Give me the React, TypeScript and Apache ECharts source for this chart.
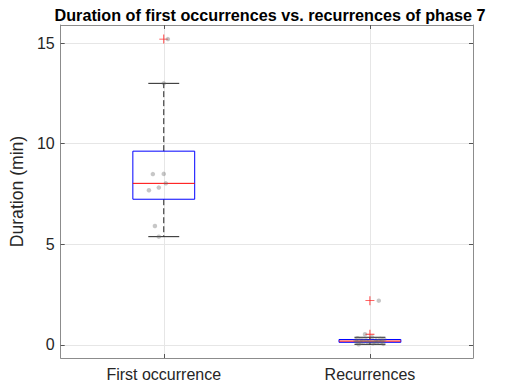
import React, { useEffect, useRef } from "react";
import * as echarts from "echarts";

const categories = ["First occurrence", "Recurrences"];
const categoryPositions = [1, 2];
const yTicks = [0, 5, 10, 15];

// box statistics per group: [lower whisker, q1, median, q3, upper whisker]
const firstBox = [5.38, 7.24, 8.03, 9.63, 13.0];
const recurrenceBox = [0.03, 0.13, 0.19, 0.27, 0.38];

// outliers: [group position, value]
const outlierPoints = [
  [1, 15.2],
  [2, 2.2],
  [2, 0.53],
];

// raw observations (jittered horizontally as in the reference)
const firstValues = [15.2, 13.0, 8.49, 8.5, 8.03, 7.69, 7.82, 5.91, 5.38];
const firstJitter = [0.02, 0, -0.053, 0, 0.01, -0.072, -0.024, -0.043, -0.024];

const recurrenceValues = [
  2.2, 0.53, 0.38, 0.33, 0.3, 0.28, 0.27, 0.25, 0.24, 0.22, 0.21, 0.2, 0.19,
  0.18, 0.17, 0.16, 0.15, 0.14, 0.13, 0.12, 0.1, 0.08, 0.05, 0.03,
];
const recurrenceJitter = [
  0.043, -0.024, 0.01, -0.06, 0.05, -0.04, 0.07, -0.02, 0.03, -0.07, 0.06, 0.0,
  -0.05, 0.04, -0.03, 0.02, -0.065, 0.055, -0.01, 0.035, -0.045, 0.015, 0.065,
  -0.055,
];

const FONT = "'Liberation Sans', Arial, sans-serif";

export default function App() {
  const ref = useRef<HTMLDivElement>(null);

  useEffect(() => {
    if (!ref.current) return;
    const chart = echarts.init(ref.current, null, { renderer: "svg" });

    const boxData = [
      [categoryPositions[0], ...firstBox],
      [categoryPositions[1], ...recurrenceBox],
    ];

    const scatterData = [
      ...firstValues.map((v, i) => [categoryPositions[0] + firstJitter[i], v]),
      ...recurrenceValues.map((v, i) => [
        categoryPositions[1] + recurrenceJitter[i],
        v,
      ]),
    ];

    const axisGray = "#8c8c8c";

    const option: any = {
      animation: false,
      title: {
        text: "Duration of first occurrences vs. recurrences of phase 7",
        left: 265,
        textAlign: "center",
        top: 2,
        textStyle: {
          fontFamily: FONT,
          fontSize: 16.2,
          fontWeight: "bold",
          color: "#000",
        },
      },
      grid: { left: 55, right: 32, top: 25, bottom: 32 },
      xAxis: [
        {
          type: "value",
          min: 0.5,
          max: 2.5,
          position: "bottom",
          axisLine: { show: true, onZero: false, lineStyle: { color: axisGray } },
          axisTick: {
            show: true,
            inside: true,
            length: 4,
            customValues: categoryPositions,
            lineStyle: { color: "#555" },
          },
          axisLabel: {
            customValues: categoryPositions,
            formatter: (v: number) => categories[Math.round(v) - 1] ?? "",
            fontFamily: FONT,
            fontSize: 16,
            color: "#262626",
            margin: 8,
          },
          splitLine: { show: true, lineStyle: { color: "#e6e6e6" } },
        },
        {
          type: "value",
          min: 0.5,
          max: 2.5,
          position: "top",
          axisLine: { show: true, onZero: false, lineStyle: { color: axisGray } },
          axisTick: {
            show: true,
            inside: true,
            length: 4,
            customValues: categoryPositions,
            lineStyle: { color: "#555" },
          },
          axisLabel: { show: false },
          splitLine: { show: false },
        },
      ],
      yAxis: [
        {
          type: "value",
          min: -0.65,
          max: 15.9,
          position: "left",
          name: "Duration (min)",
          nameLocation: "middle",
          nameGap: 28,
          nameTextStyle: { fontFamily: FONT, fontSize: 17.6, color: "#262626" },
          axisLine: { show: true, onZero: false, lineStyle: { color: axisGray } },
          axisTick: {
            show: true,
            inside: true,
            length: 4,
            customValues: yTicks,
            lineStyle: { color: "#555" },
          },
          axisLabel: {
            customValues: yTicks,
            fontFamily: FONT,
            fontSize: 16,
            color: "#262626",
            margin: 6,
          },
          splitLine: { show: true, lineStyle: { color: "#e6e6e6" } },
        },
        {
          type: "value",
          min: -0.65,
          max: 15.9,
          position: "right",
          axisLine: { show: true, onZero: false, lineStyle: { color: axisGray } },
          axisTick: {
            show: true,
            inside: true,
            length: 4,
            customValues: yTicks,
            lineStyle: { color: "#555" },
          },
          axisLabel: { show: false },
          splitLine: { show: false },
        },
      ],
      series: [
        {
          type: "custom",
          xAxisIndex: 0,
          yAxisIndex: 0,
          data: boxData,
          z: 2,
          renderItem: (params: any, api: any) => {
            const x = api.value(0);
            const lo = api.value(1);
            const q1 = api.value(2);
            const med = api.value(3);
            const q3 = api.value(4);
            const hi = api.value(5);
            const cx = api.coord([x, med])[0];
            const yLo = api.coord([x, lo])[1];
            const yQ1 = api.coord([x, q1])[1];
            const yMed = api.coord([x, med])[1];
            const yQ3 = api.coord([x, q3])[1];
            const yHi = api.coord([x, hi])[1];
            const halfW = api.size([0.3, 0])[0] / 2;
            const capW = halfW / 2;
            const dashStyle = {
              stroke: "#222",
              lineWidth: 1,
              lineDash: [6, 3],
            };
            return {
              type: "group",
              children: [
                {
                  type: "line",
                  shape: { x1: cx, y1: yQ3, x2: cx, y2: yHi },
                  style: dashStyle,
                },
                {
                  type: "line",
                  shape: { x1: cx, y1: yQ1, x2: cx, y2: yLo },
                  style: dashStyle,
                },
                {
                  type: "line",
                  shape: { x1: cx - capW, y1: yHi, x2: cx + capW, y2: yHi },
                  style: { stroke: "#222", lineWidth: 1 },
                },
                {
                  type: "line",
                  shape: { x1: cx - capW, y1: yLo, x2: cx + capW, y2: yLo },
                  style: { stroke: "#222", lineWidth: 1 },
                },
                {
                  type: "rect",
                  shape: {
                    x: cx - halfW,
                    y: yQ3,
                    width: halfW * 2,
                    height: yQ1 - yQ3,
                  },
                  style: { fill: "none", stroke: "#0000ff", lineWidth: 1 },
                },
                {
                  type: "line",
                  shape: { x1: cx - halfW, y1: yMed, x2: cx + halfW, y2: yMed },
                  style: { stroke: "#ff0000", lineWidth: 1 },
                },
              ],
            };
          },
        },
        {
          type: "scatter",
          xAxisIndex: 0,
          yAxisIndex: 0,
          data: outlierPoints,
          symbol: "path://M4.5,0h1v10h-1z M0,4.5h10v1h-10z",
          symbolSize: 9,
          itemStyle: { color: "#ff0000" },
          z: 3,
        },
        {
          type: "scatter",
          xAxisIndex: 0,
          yAxisIndex: 0,
          data: scatterData,
          symbol: "circle",
          symbolSize: 4.5,
          itemStyle: { color: "rgba(100,100,100,0.45)" },
          z: 4,
        },
      ],
    };

    chart.setOption(option);
    return () => chart.dispose();
  }, []);

  return <div ref={ref} style={{ width: 505, height: 390, margin: -8 }} />;
}
